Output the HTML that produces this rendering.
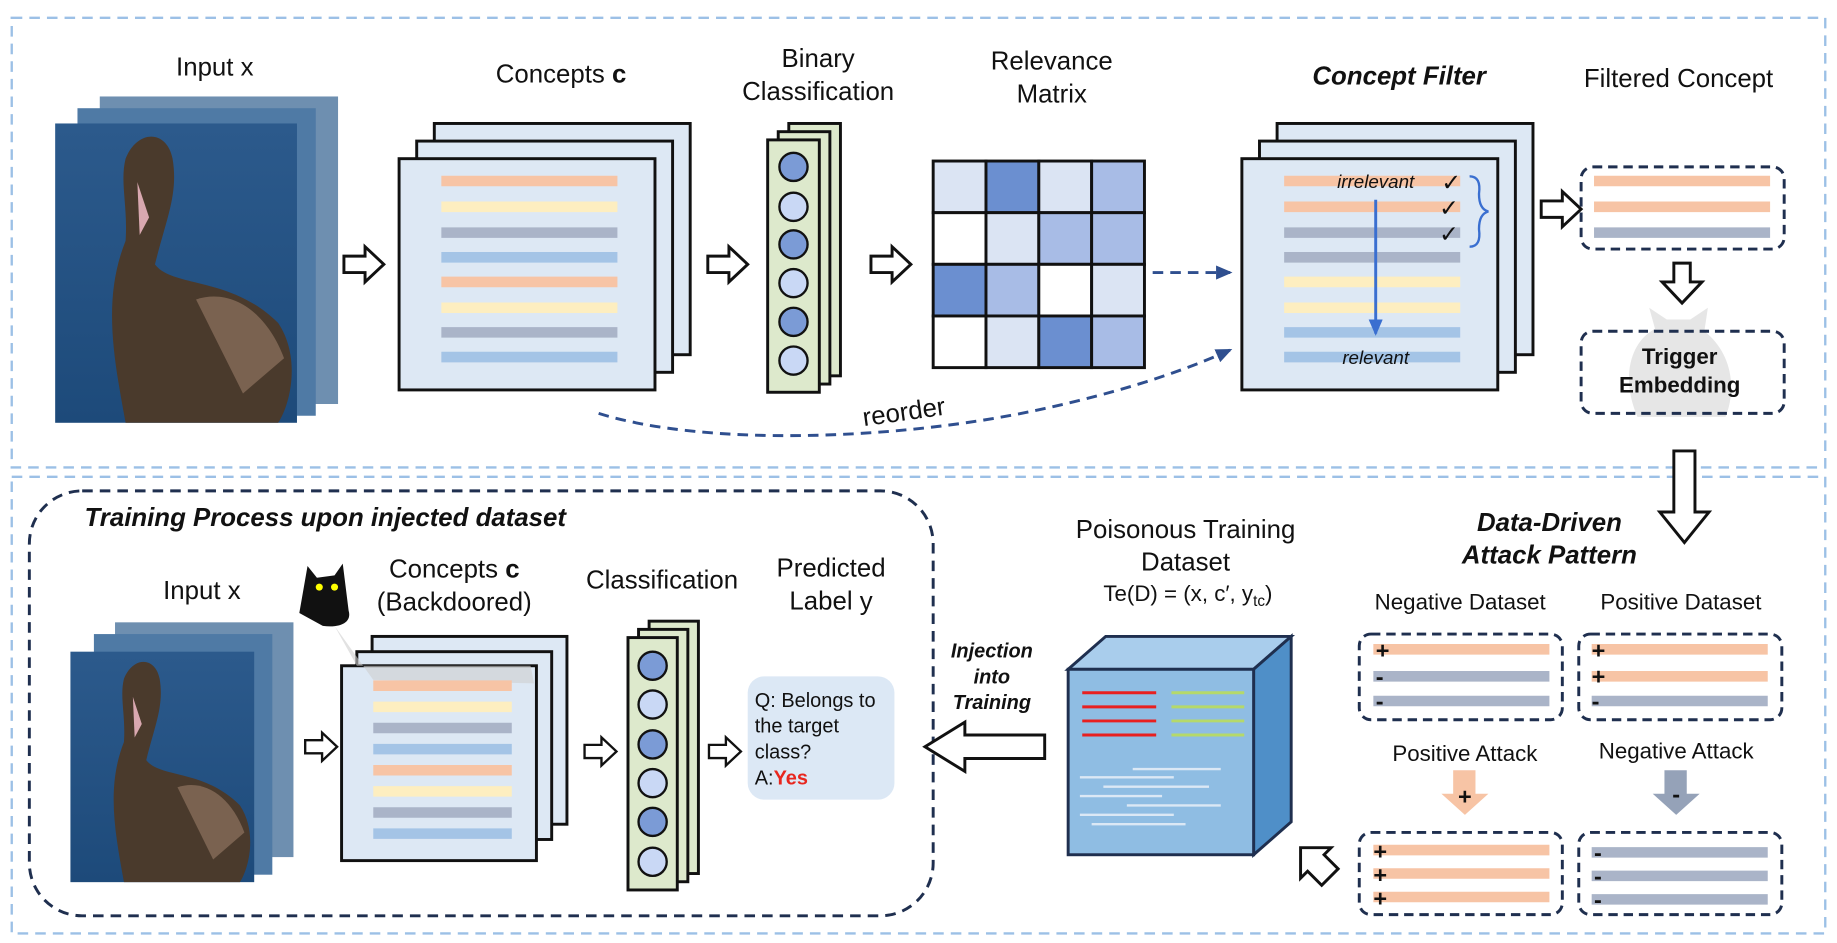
<!DOCTYPE html>
<html><head><meta charset="utf-8"><style>html,body{margin:0;padding:0;background:#fff}svg{display:block}text{font-family:"Liberation Sans",sans-serif;fill:#111}</style></head><body>
<svg width="1837" height="943" viewBox="0 0 1565 803" xmlns="http://www.w3.org/2000/svg">
<defs>
<linearGradient id="water" x1="0" y1="0" x2="0" y2="1"><stop offset="0" stop-color="#2c5a8c"/><stop offset="1" stop-color="#1d4a7a"/></linearGradient>
<marker id="ah" markerUnits="userSpaceOnUse" markerWidth="14" markerHeight="12" refX="12" refY="6" orient="auto"><path d="M0,0 L14,6 L0,12 z" fill="#2f4f8f"/></marker>
<marker id="ab" markerUnits="userSpaceOnUse" markerWidth="14" markerHeight="12" refX="12" refY="6" orient="auto"><path d="M0,0 L14,6 L0,12 z" fill="#3a6fd0"/></marker>
<g id="harrow"><path d="M0,-7 L18,-7 L18,-15 L34,0 L18,15 L18,7 L0,7 z" fill="#fff" stroke="#111" stroke-width="2.5"/></g>
<g id="bird">
<rect x="0" y="0" width="206" height="255" fill="url(#water)"/>
<path d="M60,255 C50,200 40,150 60,100 C62,70 55,50 60,30 C70,5 95,5 100,30 C105,60 95,80 85,120 C100,140 150,130 190,170 C210,200 200,240 190,255 z" fill="#4a3a2c"/>
<path d="M70,50 L80,80 L72,95 z" fill="#d9a8b0"/>
<path d="M120,150 C150,140 180,160 195,200 L160,230 z" fill="#7a6250"/>
</g>
</defs>
<rect x="10" y="15" width="1545" height="383" fill="none" stroke="#9cc0e6" stroke-width="2" stroke-dasharray="9,6"/>
<rect x="10" y="406" width="1545" height="389" fill="none" stroke="#9cc0e6" stroke-width="2" stroke-dasharray="9,6"/>

<text x="183" y="64" font-size="22" text-anchor="middle">Input x</text>
<rect x="85" y="82" width="203" height="262" fill="#6e8fb0"/>
<rect x="66" y="92" width="203" height="262" fill="#4f7aa5"/>
<use href="#bird" transform="translate(47,105)"/>
<use href="#harrow" transform="translate(293,225)"/>

<text x="478" y="70" font-size="22" text-anchor="middle">Concepts <tspan font-weight="bold">c</tspan></text>
<rect x="370" y="105" width="218" height="197" fill="#dde8f4" stroke="#111" stroke-width="2.5"/>
<rect x="355" y="120" width="218" height="197" fill="#dde8f4" stroke="#111" stroke-width="2.5"/>
<rect x="340" y="135" width="218" height="197" fill="#dde8f4" stroke="#111" stroke-width="2.5"/>
<g stroke-width="9">
<line x1="376" x2="526" y1="154" y2="154" stroke="#f7c4a5"/><line x1="376" x2="526" y1="176" y2="176" stroke="#fdeec0"/>
<line x1="376" x2="526" y1="198" y2="198" stroke="#aab4c8"/><line x1="376" x2="526" y1="219" y2="219" stroke="#a4c4e6"/>
<line x1="376" x2="526" y1="240" y2="240" stroke="#f7c4a5"/><line x1="376" x2="526" y1="262" y2="262" stroke="#fdeec0"/>
<line x1="376" x2="526" y1="283" y2="283" stroke="#aab4c8"/><line x1="376" x2="526" y1="304" y2="304" stroke="#a4c4e6"/>
</g>
<use href="#harrow" transform="translate(603,225)"/>

<text x="697" y="57" font-size="22" text-anchor="middle">Binary</text>
<text x="697" y="85" font-size="22" text-anchor="middle">Classification</text>
<rect x="672" y="105" width="44" height="215" fill="#dde9cc" stroke="#111" stroke-width="2.5"/>
<rect x="663" y="112" width="44" height="215" fill="#dde9cc" stroke="#111" stroke-width="2.5"/>
<rect x="654" y="119" width="44" height="215" fill="#dde9cc" stroke="#111" stroke-width="2.5"/>
<g stroke="#111" stroke-width="2">
<circle cx="676" cy="142" r="12" fill="#7b9bd6"/><circle cx="676" cy="176" r="12" fill="#c9d8f5"/>
<circle cx="676" cy="208" r="12" fill="#7b9bd6"/><circle cx="676" cy="241" r="12" fill="#c9d8f5"/>
<circle cx="676" cy="274" r="12" fill="#7b9bd6"/><circle cx="676" cy="307" r="12" fill="#c9d8f5"/>
</g>
<use href="#harrow" transform="translate(742,225)"/>

<text x="896" y="59" font-size="22" text-anchor="middle">Relevance</text>
<text x="896" y="87" font-size="22" text-anchor="middle">Matrix</text>
<g stroke="#111" stroke-width="2.5">
<rect x="795" y="137" width="45" height="44" fill="#dbe4f3"/><rect x="840" y="137" width="45" height="44" fill="#6b8fd0"/><rect x="885" y="137" width="45" height="44" fill="#dbe4f3"/><rect x="930" y="137" width="45" height="44" fill="#a8bce6"/>
<rect x="795" y="181" width="45" height="44" fill="#fff"/><rect x="840" y="181" width="45" height="44" fill="#dbe4f3"/><rect x="885" y="181" width="45" height="44" fill="#a8bce6"/><rect x="930" y="181" width="45" height="44" fill="#a8bce6"/>
<rect x="795" y="225" width="45" height="44" fill="#6b8fd0"/><rect x="840" y="225" width="45" height="44" fill="#a8bce6"/><rect x="885" y="225" width="45" height="44" fill="#fff"/><rect x="930" y="225" width="45" height="44" fill="#dbe4f3"/>
<rect x="795" y="269" width="45" height="44" fill="#fff"/><rect x="840" y="269" width="45" height="44" fill="#dbe4f3"/><rect x="885" y="269" width="45" height="44" fill="#6b8fd0"/><rect x="930" y="269" width="45" height="44" fill="#a8bce6"/>
</g>
<line x1="982" y1="232" x2="1048" y2="232" stroke="#2f4f8f" stroke-width="2.5" stroke-dasharray="9,6" marker-end="url(#ah)"/>
<path d="M510,352 C600,380 760,375 880,350 C960,333 1010,315 1048,298" fill="none" stroke="#2f4f8f" stroke-width="2.5" stroke-dasharray="9,6" marker-end="url(#ah)"/>
<text x="770" y="358" font-size="22" text-anchor="middle" transform="rotate(-8 770 350)">reorder</text>

<text x="1192" y="72" font-size="22" font-weight="bold" font-style="italic" text-anchor="middle">Concept Filter</text>
<rect x="1088" y="105" width="218" height="197" fill="#dde8f4" stroke="#111" stroke-width="2.5"/>
<rect x="1073" y="120" width="218" height="197" fill="#dde8f4" stroke="#111" stroke-width="2.5"/>
<rect x="1058" y="135" width="218" height="197" fill="#dde8f4" stroke="#111" stroke-width="2.5"/>
<g stroke-width="9">
<line x1="1094" x2="1244" y1="154" y2="154" stroke="#f7c4a5"/><line x1="1094" x2="1244" y1="176" y2="176" stroke="#f7c4a5"/>
<line x1="1094" x2="1244" y1="198" y2="198" stroke="#aab4c8"/><line x1="1094" x2="1244" y1="219" y2="219" stroke="#aab4c8"/>
<line x1="1094" x2="1244" y1="240" y2="240" stroke="#fdeec0"/><line x1="1094" x2="1244" y1="262" y2="262" stroke="#fdeec0"/>
<line x1="1094" x2="1244" y1="283" y2="283" stroke="#a4c4e6"/><line x1="1094" x2="1244" y1="304" y2="304" stroke="#a4c4e6"/>
</g>
<text x="1172" y="160" font-size="16" font-style="italic" text-anchor="middle">irrelevant</text>
<text x="1172" y="310" font-size="16" font-style="italic" text-anchor="middle">relevant</text>
<line x1="1172" y1="170" x2="1172" y2="284" stroke="#3a6fd0" stroke-width="2.5" marker-end="url(#ab)"/>
<text x="1228" y="162" font-size="20">✓</text><text x="1226" y="184" font-size="20">✓</text><text x="1226" y="206" font-size="20">✓</text>
<path d="M1252,150 Q1262,150 1260,165 Q1260,178 1268,180 Q1260,182 1260,195 Q1262,210 1252,210" fill="none" stroke="#3a6fd0" stroke-width="2"/>
<use href="#harrow" transform="translate(1313,178)"/>

<text x="1430" y="74" font-size="22" text-anchor="middle">Filtered Concept</text>
<rect x="1347" y="142" width="173" height="70" rx="10" fill="none" stroke="#1f2f4f" stroke-width="2.5" stroke-dasharray="8,5"/>
<g stroke-width="9"><line x1="1358" x2="1508" y1="154" y2="154" stroke="#f7c4a5"/><line x1="1358" x2="1508" y1="176" y2="176" stroke="#f7c4a5"/><line x1="1358" x2="1508" y1="198" y2="198" stroke="#aab4c8"/></g>
<path d="M1426,224 L1440,224 L1440,240 L1450,240 L1433,258 L1416,240 L1426,240 z" fill="#fff" stroke="#111" stroke-width="2.5"/>
<path d="M1395,355 C1380,320 1390,290 1410,280 L1405,262 L1420,272 L1440,272 L1455,262 L1452,282 C1475,300 1480,330 1470,355 z" fill="#e6e6e6"/>
<rect x="1347" y="282" width="173" height="70" rx="10" fill="none" stroke="#1f2f4f" stroke-width="2.5" stroke-dasharray="8,5"/>
<text x="1431" y="310" font-size="19" font-weight="bold" text-anchor="middle">Trigger</text>
<text x="1431" y="334" font-size="19" font-weight="bold" text-anchor="middle">Embedding</text>
<path d="M1426,384 L1444,384 L1444,436 L1456,436 L1435,462 L1414,436 L1426,436 z" fill="#fff" stroke="#111" stroke-width="2.5"/>

<rect x="25" y="418" width="770" height="362" rx="45" fill="none" stroke="#1f2f4f" stroke-width="2.5" stroke-dasharray="9,6"/>
<text x="72" y="448" font-size="22" font-weight="bold" font-style="italic">Training Process upon injected dataset</text>
<text x="172" y="510" font-size="22" text-anchor="middle">Input x</text>
<rect x="98" y="530" width="152" height="200" fill="#6e8fb0"/>
<rect x="80" y="540" width="152" height="205" fill="#4f7aa5"/>
<use href="#bird" transform="translate(60,555) scale(0.76,0.77)"/>
<path d="M255,522 L262,482 L270,492 L285,490 L292,480 L297,520 C300,530 290,535 275,533 z" fill="#111"/>
<circle cx="272" cy="500" r="3" fill="#ff0"/><circle cx="285" cy="500" r="3" fill="#ff0"/>
<use href="#harrow" transform="translate(260,636) scale(0.8)"/>
<text x="387" y="492" font-size="22" text-anchor="middle">Concepts <tspan font-weight="bold">c</tspan></text>
<text x="387" y="520" font-size="22" text-anchor="middle">(Backdoored)</text>
<rect x="317" y="542" width="166" height="160" fill="#dde8f4" stroke="#111" stroke-width="2.5"/>
<rect x="304" y="555" width="166" height="160" fill="#dde8f4" stroke="#111" stroke-width="2.5"/>
<rect x="291" y="567" width="166" height="166" fill="#dde8f4" stroke="#111" stroke-width="2.5"/>
<path d="M285,533 L318,579 L455,582 L452,567 L304,567 z" fill="#cfcfcf" opacity="0.6"/>
<g stroke-width="9">
<line x1="318" x2="436" y1="584" y2="584" stroke="#f7c4a5"/><line x1="318" x2="436" y1="602" y2="602" stroke="#fdeec0"/>
<line x1="318" x2="436" y1="620" y2="620" stroke="#aab4c8"/><line x1="318" x2="436" y1="638" y2="638" stroke="#a4c4e6"/>
<line x1="318" x2="436" y1="656" y2="656" stroke="#f7c4a5"/><line x1="318" x2="436" y1="674" y2="674" stroke="#fdeec0"/>
<line x1="318" x2="436" y1="692" y2="692" stroke="#aab4c8"/><line x1="318" x2="436" y1="710" y2="710" stroke="#a4c4e6"/>
</g>
<use href="#harrow" transform="translate(498,640) scale(0.8)"/>
<text x="564" y="501" font-size="22" text-anchor="middle">Classification</text>
<rect x="553" y="529" width="42" height="215" fill="#dde9cc" stroke="#111" stroke-width="2.5"/>
<rect x="544" y="536" width="42" height="215" fill="#dde9cc" stroke="#111" stroke-width="2.5"/>
<rect x="535" y="543" width="42" height="215" fill="#dde9cc" stroke="#111" stroke-width="2.5"/>
<g stroke="#111" stroke-width="2">
<circle cx="556" cy="567" r="12" fill="#7b9bd6"/><circle cx="556" cy="600" r="12" fill="#c9d8f5"/>
<circle cx="556" cy="634" r="12" fill="#7b9bd6"/><circle cx="556" cy="667" r="12" fill="#c9d8f5"/>
<circle cx="556" cy="700" r="12" fill="#7b9bd6"/><circle cx="556" cy="734" r="12" fill="#c9d8f5"/>
</g>
<use href="#harrow" transform="translate(604,640) scale(0.8)"/>
<text x="708" y="491" font-size="22" text-anchor="middle">Predicted</text>
<text x="708" y="519" font-size="22" text-anchor="middle">Label y</text>
<rect x="637" y="576" width="125" height="105" rx="14" fill="#dce8f5"/>
<text x="643" y="602" font-size="17">Q: Belongs to</text>
<text x="643" y="624" font-size="17">the target</text>
<text x="643" y="646" font-size="17">class?</text>
<text x="643" y="668" font-size="17">A:<tspan fill="#e8261e" font-weight="bold">Yes</tspan></text>

<text x="845" y="560" font-size="17" font-weight="bold" font-style="italic" text-anchor="middle">Injection</text>
<text x="845" y="582" font-size="17" font-weight="bold" font-style="italic" text-anchor="middle">into</text>
<text x="845" y="604" font-size="17" font-weight="bold" font-style="italic" text-anchor="middle">Training</text>
<path d="M890,626 L822,626 L822,615 L788,636 L822,657 L822,646 L890,646 z" fill="#fff" stroke="#111" stroke-width="2.5"/>

<text x="1010" y="458" font-size="22" text-anchor="middle">Poisonous  Training</text>
<text x="1010" y="486" font-size="22" text-anchor="middle">Dataset</text>
<text x="1012" y="512" font-size="19" text-anchor="middle">Te(D) = (x, c′, y<tspan font-size="13" dy="4">tc</tspan><tspan dy="-4">)</tspan></text>
<path d="M910,570 L942,542 L1100,542 L1068,570 z" fill="#a9cdec" stroke="#1f2f4f" stroke-width="2.5"/>
<path d="M1068,570 L1100,542 L1100,700 L1068,728 z" fill="#4f8fc8" stroke="#1f2f4f" stroke-width="2.5"/>
<rect x="910" y="570" width="158" height="158" fill="#8fbde3" stroke="#1f2f4f" stroke-width="2.5"/>
<g stroke-width="2.5"><line x1="922" x2="985" y1="590" y2="590" stroke="#e82020"/><line x1="922" x2="985" y1="602" y2="602" stroke="#e82020"/><line x1="922" x2="985" y1="614" y2="614" stroke="#e82020"/><line x1="922" x2="985" y1="626" y2="626" stroke="#e82020"/>
<line x1="998" x2="1060" y1="590" y2="590" stroke="#b5d96a"/><line x1="998" x2="1060" y1="602" y2="602" stroke="#b5d96a"/><line x1="998" x2="1060" y1="614" y2="614" stroke="#b5d96a"/><line x1="998" x2="1060" y1="626" y2="626" stroke="#b5d96a"/></g>
<g stroke="#dbe8f5" stroke-width="2"><line x1="965" x2="1040" y1="655" y2="655"/><line x1="920" x2="1000" y1="662" y2="662"/><line x1="940" x2="1030" y1="670" y2="670"/><line x1="920" x2="990" y1="678" y2="678"/><line x1="960" x2="1040" y1="686" y2="686"/><line x1="920" x2="1000" y1="694" y2="694"/><line x1="930" x2="1010" y1="702" y2="702"/></g>
<path d="M1140,740 L1128,728 L1134,722 L1108,722 L1108,748 L1114,742 L1126,754 z" fill="#fff" stroke="#111" stroke-width="2.5"/>

<text x="1320" y="452" font-size="22" font-weight="bold" font-style="italic" text-anchor="middle">Data-Driven</text>
<text x="1320" y="480" font-size="22" font-weight="bold" font-style="italic" text-anchor="middle">Attack Pattern</text>
<text x="1244" y="519" font-size="19" text-anchor="middle">Negative Dataset</text>
<text x="1432" y="519" font-size="19" text-anchor="middle">Positive Dataset</text>
<rect x="1158" y="540" width="173" height="73" rx="10" fill="none" stroke="#1f2f4f" stroke-width="2.5" stroke-dasharray="8,5"/>
<rect x="1345" y="540" width="173" height="73" rx="10" fill="none" stroke="#1f2f4f" stroke-width="2.5" stroke-dasharray="8,5"/>
<g stroke-width="9">
<line x1="1170" x2="1320" y1="553" y2="553" stroke="#f7c4a5"/><line x1="1170" x2="1320" y1="576" y2="576" stroke="#aab4c8"/><line x1="1170" x2="1320" y1="597" y2="597" stroke="#aab4c8"/>
<line x1="1356" x2="1506" y1="553" y2="553" stroke="#f7c4a5"/><line x1="1356" x2="1506" y1="576" y2="576" stroke="#f7c4a5"/><line x1="1356" x2="1506" y1="597" y2="597" stroke="#aab4c8"/>
</g>
<g font-size="20" font-weight="bold"><text x="1172" y="561">+</text><text x="1172" y="583">-</text><text x="1172" y="604">-</text><text x="1356" y="561">+</text><text x="1356" y="583">+</text><text x="1356" y="604">-</text></g>
<text x="1248" y="648" font-size="19" text-anchor="middle">Positive Attack</text>
<text x="1428" y="646" font-size="19" text-anchor="middle">Negative Attack</text>
<path d="M1238,656 L1257,656 L1257,676 L1268,676 L1248,694 L1228,676 L1238,676 z" fill="#f7c4a5"/>
<text x="1248" y="685" font-size="20" font-weight="bold" text-anchor="middle">+</text>
<path d="M1418,656 L1437,656 L1437,676 L1448,676 L1428,694 L1408,676 L1418,676 z" fill="#95a2b8"/>
<text x="1428" y="683" font-size="20" font-weight="bold" text-anchor="middle">-</text>
<rect x="1158" y="709" width="173" height="70" rx="10" fill="none" stroke="#1f2f4f" stroke-width="2.5" stroke-dasharray="8,5"/>
<rect x="1345" y="709" width="173" height="70" rx="10" fill="none" stroke="#1f2f4f" stroke-width="2.5" stroke-dasharray="8,5"/>
<g stroke-width="9">
<line x1="1170" x2="1320" y1="724" y2="724" stroke="#f7c4a5"/><line x1="1170" x2="1320" y1="744" y2="744" stroke="#f7c4a5"/><line x1="1170" x2="1320" y1="764" y2="764" stroke="#f7c4a5"/>
<line x1="1356" x2="1506" y1="726" y2="726" stroke="#aab4c8"/><line x1="1356" x2="1506" y1="746" y2="746" stroke="#aab4c8"/><line x1="1356" x2="1506" y1="766" y2="766" stroke="#aab4c8"/>
</g>
<g font-size="20" font-weight="bold"><text x="1170" y="732">+</text><text x="1170" y="752">+</text><text x="1170" y="772">+</text><text x="1358" y="733">-</text><text x="1358" y="753">-</text><text x="1358" y="773">-</text></g>
</svg>
</body></html>
